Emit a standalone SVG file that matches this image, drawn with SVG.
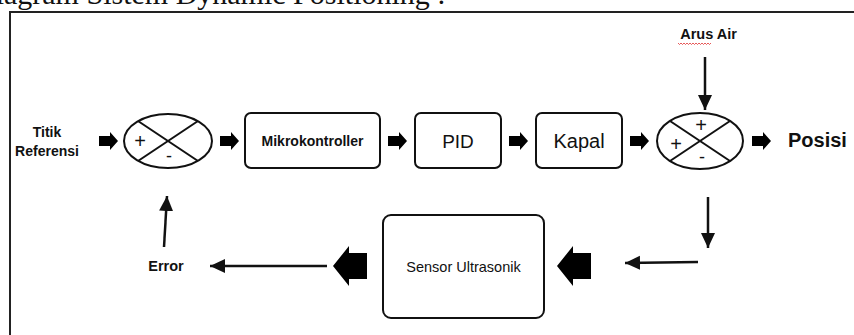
<svg xmlns="http://www.w3.org/2000/svg" width="854" height="335" viewBox="0 0 854 335">
<style>
.box{fill:#fff;stroke:#111;stroke-width:2}
.sum{fill:#fff;stroke:#111;stroke-width:2}
.x{stroke:#111;stroke-width:2}
.b{font-family:"Liberation Sans",Arial,sans-serif;font-weight:bold;fill:#111}
.r{font-family:"Liberation Sans",Arial,sans-serif;fill:#111}
.ln{stroke:#111;stroke-width:2.5;fill:none}
.fat{fill:#000}
</style>
<defs>
<marker id="ah" markerUnits="userSpaceOnUse" markerWidth="16" markerHeight="16" viewBox="0 0 16 16" refX="15" refY="8" orient="auto">
<path d="M0,1 L15,8 L0,15 Z" fill="#111"/>
</marker>
<path id="fa" d="M0,-5 H11 V-9 L19,0 L11,9 V5 H0 Z"/>
<path id="big" d="M0,0 L16,-20 V-13 H34 V13 H16 V20 Z"/>
</defs>
<rect width="854" height="335" fill="#fff"/>
<text x="-26" y="4" font-family="'Liberation Serif','Times New Roman',serif" font-size="30" fill="#111">Diagram Sistem Dynamic Positioning :</text>
<rect x="10" y="12" width="870" height="340" fill="none" stroke="#222" stroke-width="2"/>

<g id="titik-referensi">
<text class="b" x="47" y="137" font-size="14" text-anchor="middle">Titik</text>
<text class="b" x="47" y="156" font-size="14" text-anchor="middle">Referensi</text>
</g>
<g id="sum1">
<ellipse class="sum" cx="168" cy="141" rx="44" ry="27"/>
<line class="x" x1="138" y1="121" x2="198" y2="161"/>
<line class="x" x1="138" y1="161" x2="198" y2="121"/>
<text class="r" x="140" y="148" font-size="20" text-anchor="middle">+</text>
<text class="r" x="169" y="162" font-size="18" text-anchor="middle">-</text>
</g>
<g id="mikrokontroller">
<rect class="box" x="245" y="113" width="135" height="55" rx="6"/>
<text class="b" x="312.5" y="146" font-size="14" text-anchor="middle">Mikrokontroller</text>
</g>
<g id="pid">
<rect class="box" x="415" y="113" width="86" height="55" rx="6"/>
<text class="r" x="458" y="148" font-size="19" text-anchor="middle">PID</text>
</g>
<g id="kapal">
<rect class="box" x="536" y="113" width="86" height="55" rx="6"/>
<text class="r" x="579" y="148" font-size="20" text-anchor="middle">Kapal</text>
</g>
<g id="sum2">
<ellipse class="sum" cx="700" cy="141" rx="43" ry="28"/>
<line class="x" x1="670" y1="121" x2="730" y2="161"/>
<line class="x" x1="670" y1="161" x2="730" y2="121"/>
<text class="r" x="701" y="132" font-size="20" text-anchor="middle">+</text>
<text class="r" x="676" y="151" font-size="20" text-anchor="middle">+</text>
<text class="r" x="702" y="163" font-size="18" text-anchor="middle">-</text>
</g>
<g id="arus-air">
<text class="b" x="708.5" y="39" font-size="14.5" text-anchor="middle">Arus Air</text>
<path d="M678,43 l1.5,1.5 l1.5,-1.5 l1.5,1.5 l1.5,-1.5 l1.5,1.5 l1.5,-1.5 l1.5,1.5 l1.5,-1.5 l1.5,1.5 l1.5,-1.5 l1.5,1.5 l1.5,-1.5 l1.5,1.5 l1.5,-1.5 l1.5,1.5 l1.5,-1.5 l1.5,1.5 l1.5,-1.5 l1.5,1.5 l1.5,-1.5 l1.5,1.5 l1.5,-1.5" fill="none" stroke="#e03030" stroke-width="0.8"/>
</g>
<g id="posisi">
<text class="b" x="788" y="147" font-size="20">Posisi</text>
</g>
<g id="sensor">
<rect class="box" x="383" y="215" width="161" height="103" rx="8"/>
<text class="r" x="463.5" y="272" font-size="14.5" text-anchor="middle">Sensor Ultrasonik</text>
</g>
<g id="error">
<text class="b" x="166" y="271" font-size="14.5" text-anchor="middle">Error</text>
</g>

<g id="connectors">
<use href="#fa" class="fat" x="99" y="141"/>
<use href="#fa" class="fat" x="220" y="141"/>
<use href="#fa" class="fat" x="388" y="141"/>
<use href="#fa" class="fat" x="509" y="141"/>
<use href="#fa" class="fat" x="630" y="141"/>
<use href="#fa" class="fat" x="752" y="141"/>
<line class="ln" x1="705" y1="57" x2="705" y2="110" marker-end="url(#ah)"/>
<line class="ln" x1="708" y1="197" x2="708" y2="248" marker-end="url(#ah)"/>
<line class="ln" x1="698" y1="262" x2="625" y2="263" marker-end="url(#ah)"/>
<use href="#big" class="fat" x="557" y="266"/>
<use href="#big" class="fat" x="333" y="266"/>
<line class="ln" x1="327" y1="266" x2="210" y2="266" marker-end="url(#ah)"/>
<line class="ln" x1="164" y1="247" x2="167" y2="196" marker-end="url(#ah)"/>
</g>
</svg>
